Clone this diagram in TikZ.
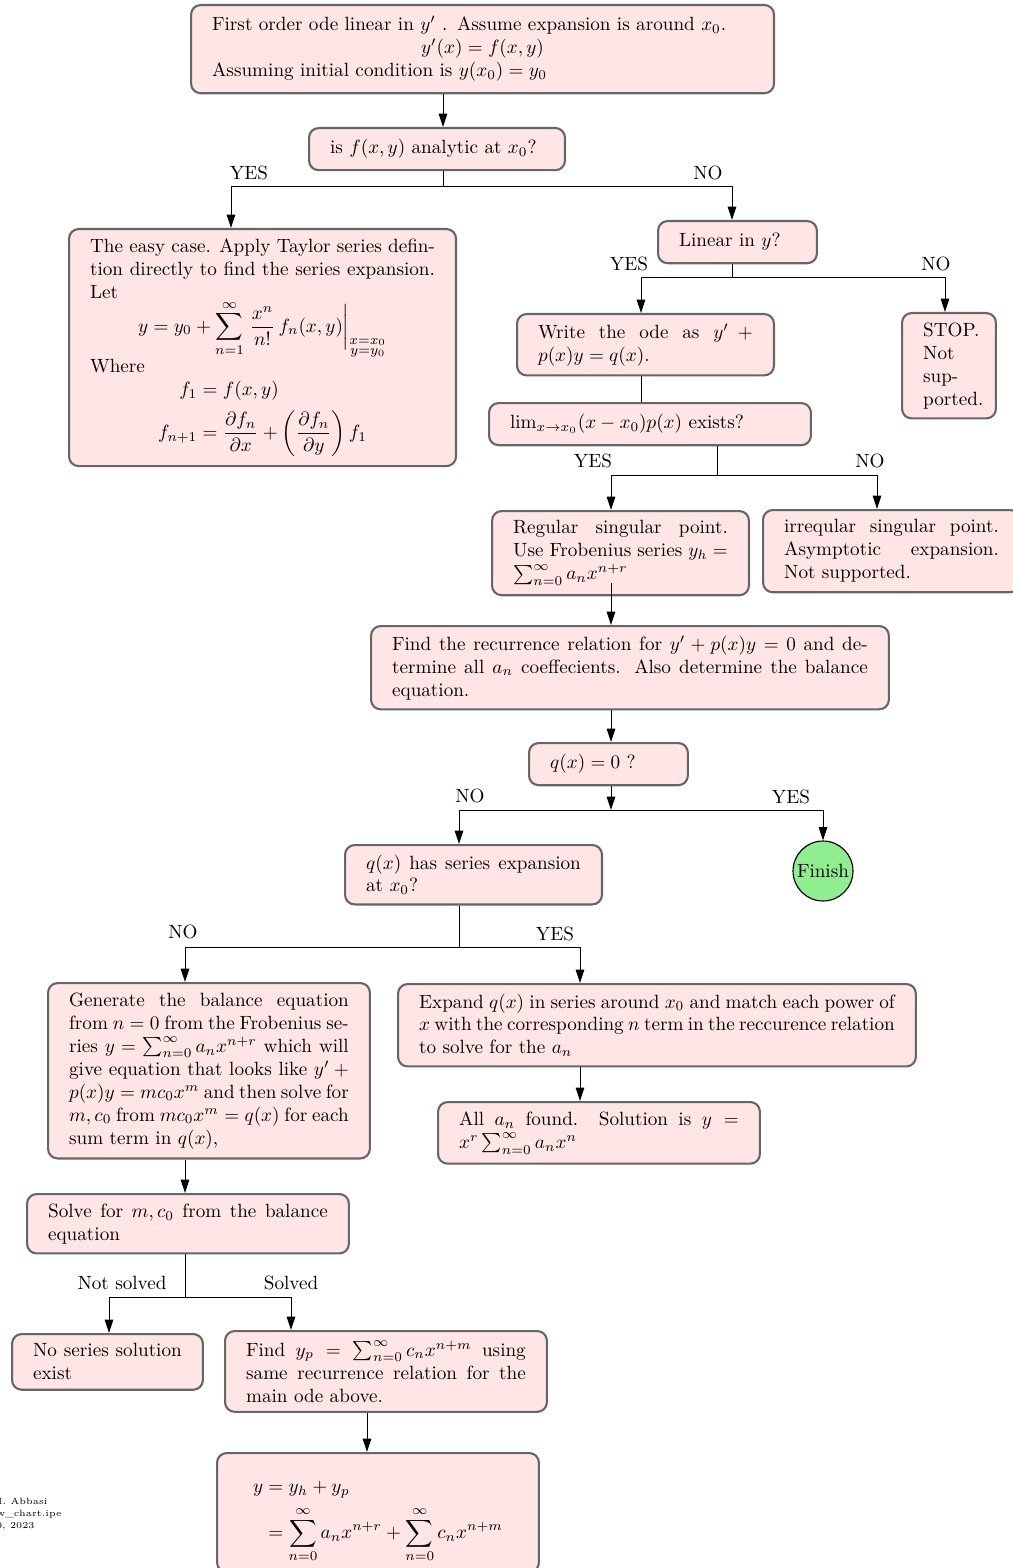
\documentclass[tikz,border=0pt]{standalone}
\usepackage{amsmath}
\usetikzlibrary{arrows.meta}
\definecolor{boxfill}{RGB}{255,229,229}
\definecolor{boxedge}{RGB}{102,102,102}
\definecolor{finishgreen}{RGB}{144,238,144}
\tikzset{
 mybox/.style={draw=boxedge, line width=1.1pt, fill=boxfill, rounded corners=5pt, inner xsep=11pt, inner ysep=5pt, anchor=north west, align=justify},
 myline/.style={draw=black, line width=0.5pt},
 myarrow/.style={myline, -{Triangle[length=7pt,width=4.5pt]}},
 lbl/.style={inner sep=0pt},
 foot/.style={font=\fontsize{4.7pt}{6.3pt}\selectfont, anchor=base east, inner sep=0pt},
}
\newcommand{\setdisp}[1]{\setlength{\abovedisplayskip}{#1}\setlength{\abovedisplayshortskip}{#1}}
\newcommand{\setbelowdisp}[1]{\setlength{\belowdisplayskip}{#1}\setlength{\belowdisplayshortskip}{#1}}
\begin{document}
\begin{tikzpicture}[x=0.522pt,y=-0.522pt]
\useasboundingbox (0,0) rectangle (1013,1568);

% ---------- nodes ----------
\node[mybox, text width=282.3pt, align=left, inner ysep=6pt] (top) at (190,4) {\makebox[282.3pt][l]{First order ode linear in $y'$ . Assume expansion is around $x_0$.}\\ \makebox[282.3pt][c]{$y'(x)=f(x,y)$}\\ \makebox[282.3pt][l]{Assuming initial condition is $y(x_0)=y_0$}};

\node[mybox, text width=111.6pt, align=left] (q1) at (308,127) {\strut is $f(x,y)$ analytic at $x_0$?};

\node[mybox, text width=180pt] (taylor) at (68,228) {\setdisp{0pt}\setbelowdisp{0pt}The easy case. Apply Taylor series defin-\linebreak tion directly to find the series expansion.\linebreak Let
\[ y=y_0+\sum_{n=1}^{\infty}\left.\frac{x^n}{n!}\,f_n(x,y)\right|_{\substack{x=x_0\\ y=y_0}} \]
\setdisp{2.5pt}\setbelowdisp{4pt}Where
\[ \begin{aligned} f_1&=f(x,y)\\ f_{n+1}&=\frac{\partial f_n}{\partial x}+\left(\frac{\partial f_n}{\partial y}\right)f_1\end{aligned} \]};

\node[mybox, text width=60.9pt, align=left] (lin) at (657,220) {\strut Linear in $y$?};

\node[mybox, text width=112.1pt] (write) at (516,313) {Write the ode as $y'+{}\mskip-\medmuskip$\linebreak $p(x)y=q(x)$.};

\node[mybox, text width=27pt, align=left] (stop) at (901,312) {STOP.\\ Not\\ sup-\\ ported.};

\node[mybox, text width=146pt, align=left] (lim) at (488,402) {\strut $\lim_{x\to x_0}(x-x_0)p(x)$ exists?};

\node[mybox, text width=112.1pt] (reg) at (491,510) {Regular singular point.\linebreak Use Frobenius series $y_h=$\linebreak $\sum_{n=0}^{\infty}a_nx^{n+r}$};

\node[mybox, text width=112.1pt] (irr) at (762,509) {irreqular singular point.\linebreak Asymptotic expansion.\linebreak Not supported.};

\node[mybox, text width=248.3pt] (rec) at (370,625) {Find the recurrence relation for $y'+p(x)y=0$ and de-\linebreak termine all $a_n$ coeffecients. Also determine the balance\linebreak equation.};

\node[mybox, text width=60.9pt, align=left] (q0) at (528,742) {\strut $q(x)=0$ ?};

\node[circle, draw=black, line width=0.6pt, fill=finishgreen, minimum size=31.3pt, inner sep=0pt] (finish) at (823,871) {Finish};

\node[mybox, text width=112.1pt] (qs) at (344,844) {$q(x)$ has series expansion\linebreak at $x_0$?};

\node[mybox, text width=146pt] (gen) at (47,982) {Generate the balance equation\linebreak from $n=0$ from the Frobenius se-\linebreak ries $y=\sum_{n=0}^{\infty}a_nx^{n+r}$ which will\linebreak give equation that looks like $y'+{}\mskip-\medmuskip$\linebreak $p(x)y=mc_0x^m$ and then solve for\linebreak $m,c_0$ from $mc_0x^m=q(x)$ for each\linebreak sum term in $q(x)$,};

\node[mybox, text width=248.3pt] (exp) at (397,983) {Expand $q(x)$ in series around $x_0$ and match each power of\linebreak $x$ with the corresponding $n$ term in the reccurence relation\linebreak to solve for the $a_n$};

\node[mybox, text width=146pt] (all) at (437,1101) {All $a_n$ found. Solution is $y=$\linebreak $x^r\sum_{n=0}^{\infty}a_nx^n$};

\node[mybox, text width=146pt] (solve) at (26,1193) {Solve for $m,c_0$ from the balance\linebreak equation};

\node[mybox, text width=77.6pt] (nos) at (11,1333) {No series solution\linebreak exist};

\node[mybox, text width=146pt] (fyp) at (224,1330) {Find $y_p=\sum_{n=0}^{\infty}c_nx^{n+m}$ using\linebreak same recurrence relation for the\linebreak main ode above.};

\node[mybox, text width=146pt, align=center] (fin) at (216,1452) {\raisebox{0pt}[\dimexpr\height+7pt\relax][\depth]{$\displaystyle\begin{aligned}y&=y_h+y_p\\&=\sum_{n=0}^{\infty}a_nx^{n+r}+\sum_{n=0}^{\infty}c_nx^{n+m}\end{aligned}$}};

% ---------- footer ----------
\node[foot] (f1) at (48,1504) {Nasser M. Abbasi};
\node[foot] (f2) at (62,1516) {flow\_chart.ipe};
\node[foot] (f3) at (35,1528) {June 10, 2023};

% ---------- labels ----------
\node[lbl] (l1y) at (249,173) {YES};
\node[lbl] (l1n) at (708,173) {NO};
\node[lbl] (l2y) at (629,264) {YES};
\node[lbl] (l2n) at (936,264) {NO};
\node[lbl] (l3y) at (593,461) {YES};
\node[lbl] (l3n) at (870,461) {NO};
\node[lbl] (l4n) at (470,796) {NO};
\node[lbl] (l4y) at (791,797) {YES};
\node[lbl] (l5n) at (183,932) {NO};
\node[lbl] (l5y) at (555,934) {YES};
\node[lbl] (l6n) at (122,1283) {Not solved};
\node[lbl] (l6y) at (291,1283) {Solved};

% ---------- junction coordinates ----------
\coordinate (j1) at (443,186);
\coordinate (j1l) at (231,186);
\coordinate (j1r) at (732,186);
\coordinate (j2) at (732,277);
\coordinate (j2l) at (641,277);
\coordinate (j2r) at (945,277);
\coordinate (j3) at (717,475);
\coordinate (j3l) at (611,475);
\coordinate (j3r) at (877,475);
\coordinate (s6) at (611,583);
\coordinate (j8) at (611,810);
\coordinate (j8l) at (459,810);
\coordinate (j8r) at (823,810);
\coordinate (j9) at (459,947);
\coordinate (j9l) at (185,947);
\coordinate (j9r) at (580,947);
\coordinate (j12) at (185,1297);
\coordinate (j12l) at (109,1297);
\coordinate (j12r) at (291,1297);
\coordinate (x13) at (367,0);

% ---------- connectors ----------
\draw[myarrow] (top.south -| j1) -- (q1.north -| j1);
\draw[myline] (q1.south -| j1) -- (j1);
\draw[myarrow] (j1) -| (taylor.north -| j1l);
\draw[myarrow] (j1) -| (lin.north -| j1r);

\draw[myline] (lin.south -| j2) -- (j2);
\draw[myarrow] (j2) -| (write.north -| j2l);
\draw[myarrow] (j2) -| (stop.north -| j2r);

\draw[myline] (write.south -| j2l) -- (lim.north -| j2l);

\draw[myline] (lim.south -| j3) -- (j3);
\draw[myarrow] (j3) -| (reg.north -| j3l);
\draw[myarrow] (j3) -| (irr.north -| j3r);

\draw[myarrow] (s6) -- (rec.north -| s6);
\draw[myarrow] (rec.south -| s6) -- (q0.north -| s6);

\draw[myarrow] (q0.south -| j8) -- (j8);
\draw[myline] (j8l) -- (j8r);
\draw[myarrow] (j8l) -- (qs.north -| j8l);
\draw[myarrow] (j8r) -- (finish.north);

\draw[myline] (qs.south -| j9) -- (j9);
\draw[myarrow] (j9) -| (gen.north -| j9l);
\draw[myarrow] (j9) -| (exp.north -| j9r);

\draw[myarrow] (exp.south -| j9r) -- (all.north -| j9r);
\draw[myarrow] (gen.south -| j9l) -- (solve.north -| j9l);

\draw[myline] (solve.south -| j12) -- (j12);
\draw[myarrow] (j12) -| (nos.north -| j12l);
\draw[myarrow] (j12) -| (fyp.north -| j12r);

\draw[myarrow] (fyp.south -| x13) -- (fin.north -| x13);
\end{tikzpicture}
\end{document}
